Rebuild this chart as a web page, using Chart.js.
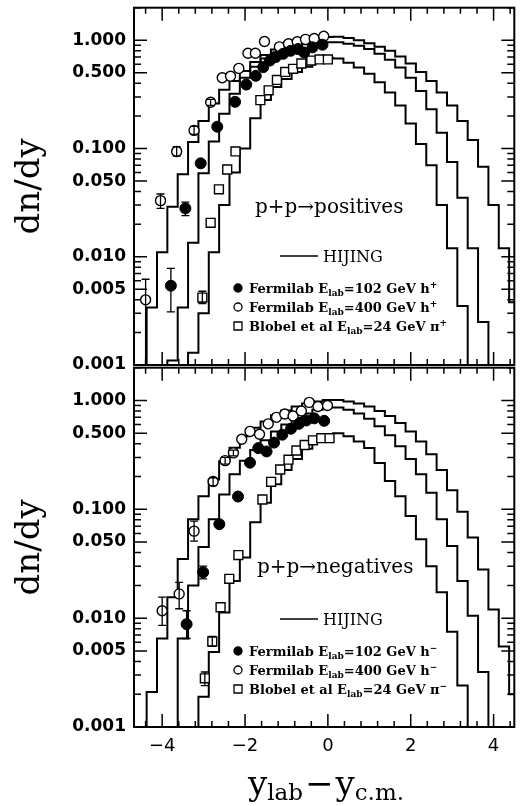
<!DOCTYPE html>
<html>
<head>
<meta charset="utf-8">
<title>dn/dy p+p HIJING</title>
<script src="https://cdn.jsdelivr.net/npm/chart.js@4.4.1/dist/chart.umd.min.js"></script>
<style>
  body { margin: 0; background: #fff; }
  #wrap { position: relative; width: 522px; height: 806px; overflow: hidden; }
  canvas { position: absolute; left: 0; }
  #topChart { top: 0; }
  #botChart { top: 360px; }
</style>
</head>
<body>
<div id="wrap">
  <canvas id="topChart" width="522" height="380"></canvas>
  <canvas id="botChart" width="522" height="446"></canvas>
</div>
<script>
// bin centres of the HIJING histograms (width 0.25)
const binCenters = [-4.5, -4.25, -4, -3.75, -3.5, -3.25, -3, -2.75, -2.5, -2.25, -2, -1.75, -1.5, -1.25, -1, -0.75, -0.5, -0.25,
  0, 0.25, 0.5, 0.75, 1, 1.25, 1.5, 1.75, 2, 2.25, 2.5, 2.75, 3, 3.25, 3.5, 3.75, 4, 4.25, 4.5];

// HIJING, positives
const hijPos400 = [0.0005, 0.0034, 0.011, 0.029, 0.058, 0.115, 0.18, 0.26, 0.35, 0.42, 0.52, 0.63, 0.73, 0.82, 0.91, 0.97, 1.02, 1.05,
  1.07, 1.08, 1.05, 1.0, 0.94, 0.87, 0.80, 0.71, 0.61, 0.51, 0.42, 0.33, 0.25, 0.18, 0.12, 0.068, 0.03, 0.012, 0.0038];
const hijPos102 = [0.0005, 0.0005, 0.0005, 0.0011, 0.0034, 0.0135, 0.059, 0.116, 0.21, 0.32, 0.45, 0.57, 0.68, 0.77, 0.83, 0.88, 0.92, 0.95,
  0.96, 0.96, 0.93, 0.89, 0.83, 0.75, 0.66, 0.56, 0.45, 0.34, 0.23, 0.14, 0.075, 0.035, 0.012, 0.0025, 0.0005, 0.0005, 0.0005];
const hijPos24 = [0.0005, 0.0005, 0.0005, 0.0005, 0.0005, 0.0013, 0.003, 0.011, 0.03, 0.06, 0.10, 0.19, 0.28, 0.37, 0.44, 0.51, 0.57, 0.63,
  0.69, 0.68, 0.62, 0.56, 0.49, 0.41, 0.33, 0.25, 0.17, 0.11, 0.07, 0.03, 0.012, 0.0035, 0.0005, 0.0005, 0.0005, 0.0005, 0.0005];

// HIJING, negatives
const hijNeg400 = [0.0005, 0.0021, 0.0065, 0.0156, 0.035, 0.081, 0.132, 0.188, 0.277, 0.367, 0.469, 0.56, 0.64, 0.73, 0.81, 0.88, 0.94, 0.98,
  1.01, 1.01, 0.98, 0.94, 0.88, 0.80, 0.72, 0.62, 0.52, 0.42, 0.32, 0.23, 0.15, 0.095, 0.055, 0.028, 0.012, 0.0055, 0.002];
const hijNeg102 = [0.0005, 0.0005, 0.0005, 0.0005, 0.0065, 0.02, 0.045, 0.081, 0.137, 0.21, 0.28, 0.35, 0.43, 0.52, 0.60, 0.69, 0.76, 0.82,
  0.86, 0.86, 0.82, 0.76, 0.68, 0.58, 0.48, 0.38, 0.29, 0.21, 0.142, 0.081, 0.046, 0.022, 0.0105, 0.0032, 0.0005, 0.0005, 0.0005];
const hijNeg24 = [0.0005, 0.0005, 0.0005, 0.0005, 0.0005, 0.0005, 0.0019, 0.0049, 0.0113, 0.022, 0.036, 0.076, 0.115, 0.17, 0.23, 0.29, 0.36, 0.43,
  0.49, 0.50, 0.47, 0.42, 0.365, 0.267, 0.182, 0.132, 0.087, 0.053, 0.03, 0.0173, 0.0075, 0.0024, 0.0005, 0.0005, 0.0005, 0.0005, 0.0005];

// data, positives
const fnal102PosX = [-3.79, -3.44, -3.07, -2.67, -2.24, -1.97, -1.74, -1.56, -1.40, -1.26, -1.08, -0.90, -0.72, -0.57, -0.37, -0.13];
const fnal102PosY = [0.0054, 0.028, 0.073, 0.159, 0.27, 0.39, 0.47, 0.565, 0.65, 0.70, 0.75, 0.80, 0.83, 0.77, 0.86, 0.91];
const fnal102PosHi = [0.0078, 0.032, null, null, null, null, null, null, null, null, null, null, null, null, null, null];
const fnal102PosLo = [0.0031, 0.024, null, null, null, null, null, null, null, null, null, null, null, null, null, null];

const fnal400PosX = [-4.40, -4.04, -3.65, -3.23, -2.83, -2.55, -2.35, -2.15, -1.93, -1.75, -1.53, -1.17, -0.95, -0.74, -0.54, -0.33, -0.10];
const fnal400PosY = [0.004, 0.033, 0.094, 0.147, 0.268, 0.45, 0.465, 0.55, 0.76, 0.76, 0.975, 0.87, 0.93, 0.97, 1.02, 1.04, 1.09];
const fnal400PosHi = [0.0062, 0.038, 0.104, 0.16, 0.285, null, null, null, null, null, null, null, null, null, null, null, null];
const fnal400PosLo = [0.0009, 0.028, 0.085, 0.135, 0.25, null, null, null, null, null, null, null, null, null, null, null, null];

const blobelPosX = [-3.03, -2.83, -2.63, -2.43, -2.23, -1.63, -1.43, -1.23, -1.03, -0.84, -0.64, -0.40, -0.20, 0.0];
const blobelPosY = [0.0042, 0.0206, 0.042, 0.064, 0.094, 0.28, 0.345, 0.43, 0.51, 0.545, 0.61, 0.65, 0.665, 0.665];
const blobelPosHi = [0.0048, null, null, null, null, null, null, null, null, null, null, null, null, null];
const blobelPosLo = [0.0037, null, null, null, null, null, null, null, null, null, null, null, null, null];

// data, negatives
const fnal102NegX = [-3.41, -3.01, -2.62, -2.17, -1.88, -1.68, -1.48, -1.30, -1.10, -0.89, -0.70, -0.52, -0.33, -0.09];
const fnal102NegY = [0.0088, 0.0264, 0.073, 0.131, 0.268, 0.365, 0.34, 0.41, 0.485, 0.55, 0.61, 0.655, 0.685, 0.65];
const fnal102NegHi = [0.0117, 0.030, null, null, null, null, null, null, null, null, null, null, null, null];
const fnal102NegLo = [0.0065, 0.023, null, null, null, null, null, null, null, null, null, null, null, null];

const fnal400NegX = [-4.0, -3.59, -3.23, -2.77, -2.48, -2.28, -2.08, -1.88, -1.65, -1.44, -1.24, -1.04, -0.84, -0.64, -0.45, -0.24, -0.01];
const fnal400NegY = [0.0117, 0.0167, 0.063, 0.18, 0.28, 0.33, 0.44, 0.52, 0.49, 0.61, 0.70, 0.75, 0.72, 0.80, 0.96, 0.88, 0.90];
const fnal400NegHi = [0.0156, 0.0213, 0.078, 0.195, 0.30, 0.35, null, null, null, null, null, null, null, null, null, null, null];
const fnal400NegLo = [0.0086, 0.0122, 0.051, 0.165, 0.26, 0.31, null, null, null, null, null, null, null, null, null, null, null];

const blobelNegX = [-2.97, -2.79, -2.59, -2.38, -2.16, -1.58, -1.37, -1.15, -0.95, -0.76, -0.56, -0.36, -0.16, 0.04];
const blobelNegY = [0.0028, 0.0061, 0.0126, 0.023, 0.038, 0.123, 0.179, 0.232, 0.286, 0.347, 0.39, 0.43, 0.45, 0.45];
const blobelNegHi = [0.0032, 0.0068, null, null, null, null, null, null, null, null, null, null, null, null];
const blobelNegLo = [0.0024, 0.0055, null, null, null, null, null, null, null, null, null, null, null, null];

// axis labels
const xLabelTicks = [-4, -2, 0, 2, 4];
const yLabelTicks = [0.001, 0.005, 0.01, 0.05, 0.1, 0.5, 1];

const legendPos = [['Fermilab E', 'lab', '=102 GeV h', '+'], ['Fermilab E', 'lab', '=400 GeV h', '+'], ['Blobel et al E', 'lab', '=24 GeV \u03c0', '+']];
const legendNeg = [['Fermilab E', 'lab', '=102 GeV h', '\u2212'], ['Fermilab E', 'lab', '=400 GeV h', '\u2212'], ['Blobel et al E', 'lab', '=24 GeV \u03c0', '\u2212']];

const SERIF = "'DejaVu Serif', serif";
const SANS = "'DejaVu Sans', sans-serif";
Chart.defaults.color = '#000';

// inward tick marks: every 0.4 in x, 1..9 per decade in y
const xTickMarks = [];
for (let k = -11; k <= 11; k++) {
  const v = k * 0.4;
  xTickMarks.push({ v, major: Math.abs(v / 2 - Math.round(v / 2)) < 1e-6 });
}
const yTickMarks = [];
[0.001, 0.01, 0.1, 1].forEach(d => {
  for (let m = 1; m <= 9; m++) {
    if (m * d <= 2) yTickMarks.push({ v: m * d, major: m === 1 || m === 5 });
  }
});

function histPoints(vals) {
  const pts = binCenters.map((c, i) => ({ x: c - 0.125, y: vals[i] }));
  pts.push({ x: binCenters[binCenters.length - 1] + 0.125, y: vals[vals.length - 1] });
  return pts;
}

function pointSet(xs, ys) {
  return xs.map((x, i) => ({ x, y: ys[i] }));
}

function drawMarker(ctx, style, x, y) {
  ctx.lineWidth = 1.3;
  ctx.strokeStyle = '#000';
  ctx.fillStyle = style === 'filled' ? '#000' : '#fff';
  ctx.beginPath();
  if (style === 'square') ctx.rect(x - 4, y - 4, 8, 8);
  else ctx.arc(x, y, 4, 0, Math.PI * 2);
  ctx.fill();
  ctx.stroke();
}

function richText(ctx, x, y, parts, base, small) {
  parts.forEach((t, i) => {
    const script = i % 2 === 1;
    ctx.font = script ? small : base;
    let dy = 0;
    if (i === 1) dy = 3;
    if (i === 3) dy = -5;
    ctx.fillText(t, x, y + dy);
    x += ctx.measureText(t).width;
  });
}

function decoPlugin(p) {
  return {
    id: 'deco',
    afterDatasetsDraw(chart) {
      const { ctx, chartArea: a } = chart;
      const y = chart.scales.y;
      ctx.save();
      ctx.strokeStyle = '#000';
      ctx.lineWidth = 1.3;
      chart.data.datasets.forEach((ds, i) => {
        if (!ds.errHi) return;
        const meta = chart.getDatasetMeta(i);
        ds.errHi.forEach((hi, j) => {
          if (hi == null) return;
          const px = meta.data[j].x;
          const yHi = y.getPixelForValue(hi);
          let yLo = y.getPixelForValue(ds.errLo[j]);
          const clipped = yLo > a.bottom;
          if (clipped) yLo = a.bottom;
          ctx.beginPath();
          ctx.moveTo(px, yHi); ctx.lineTo(px, yLo);
          ctx.moveTo(px - 4, yHi); ctx.lineTo(px + 4, yHi);
          if (!clipped) { ctx.moveTo(px - 4, yLo); ctx.lineTo(px + 4, yLo); }
          ctx.stroke();
        });
      });
      ctx.restore();
    },
    afterDraw(chart) {
      const { ctx, chartArea: a } = chart;
      const x = chart.scales.x, y = chart.scales.y;
      const off = p.offset;
      ctx.save();
      ctx.strokeStyle = '#000';
      ctx.fillStyle = '#000';
      ctx.lineWidth = 1.5;
      ctx.beginPath();
      xTickMarks.forEach(t => {
        const px = x.getPixelForValue(t.v), len = t.major ? 13 : 6;
        ctx.moveTo(px, a.top); ctx.lineTo(px, a.top + len);
        ctx.moveTo(px, a.bottom); ctx.lineTo(px, a.bottom - len);
      });
      yTickMarks.forEach(t => {
        const py = y.getPixelForValue(t.v), len = t.major ? 13 : 7;
        ctx.moveTo(a.left, py); ctx.lineTo(a.left + len, py);
        ctx.moveTo(a.right, py); ctx.lineTo(a.right - len, py);
      });
      ctx.stroke();
      ctx.lineWidth = 2;
      ctx.strokeRect(a.left, a.top, a.right - a.left, a.bottom - a.top);

      // reaction label
      ctx.textAlign = 'left';
      ctx.textBaseline = 'alphabetic';
      ctx.font = '20px ' + SERIF;
      ctx.fillText(p.reaction, p.reactionX, p.reactionY - off);

      // HIJING key
      ctx.lineWidth = 1.5;
      ctx.beginPath();
      ctx.moveTo(280, p.hijingY - off); ctx.lineTo(318, p.hijingY - off);
      ctx.stroke();
      ctx.font = '16px ' + SERIF;
      ctx.fillText('HIJING', 323, p.hijingY + 6 - off);

      // data key
      const styles = ['filled', 'open', 'square'];
      p.legend.forEach((row, i) => {
        const cy = p.legendY + i * 19 - off;
        drawMarker(ctx, styles[i], 238, cy);
        ctx.fillStyle = '#000';
        richText(ctx, 249, cy + 4.5, row, 'bold 13px ' + SERIF, 'bold 9px ' + SERIF);
      });

      if (p.xTitle) {
        let xx = 248;
        const by = 795 - off;
        const big = '34px ' + SERIF, sub = '23px ' + SERIF;
        [['y', big, 0, 0], ['lab', sub, 5, 2], ['\u2212', big, 0, 2], ['y', big, 0, 0], ['c.m.', sub, 5, 0]].forEach(s => {
          ctx.font = s[1];
          ctx.fillText(s[0], xx, by + s[2]);
          xx += ctx.measureText(s[0]).width + s[3];
        });
      }
      ctx.restore();
    }
  };
}

function makePanel(id, p) {
  const hist = h => ({ data: histPoints(h), showLine: true, stepped: true, pointRadius: 0,
    borderColor: '#000', borderWidth: 2, fill: false });
  const datasets = [
    { data: pointSet(p.fx, p.fy), pointStyle: 'circle', pointRadius: 5.5, backgroundColor: '#000',
      borderColor: '#000', borderWidth: 1, errHi: p.fHi, errLo: p.fLo },
    { data: pointSet(p.ox, p.oy), pointStyle: 'circle', pointRadius: 5, backgroundColor: '#fff',
      borderColor: '#000', borderWidth: 1.4, errHi: p.oHi, errLo: p.oLo },
    { data: pointSet(p.sx, p.sy), pointStyle: 'rect', pointRadius: 6.3, backgroundColor: '#fff',
      borderColor: '#000', borderWidth: 1.4, errHi: p.sHi, errLo: p.sLo },
    hist(p.h400), hist(p.h102), hist(p.h24)
  ];
  return new Chart(document.getElementById(id), {
    type: 'scatter',
    data: { datasets },
    options: {
      responsive: false,
      animation: false,
      events: [],
      layout: { padding: { top: 2, right: 4, left: 0, bottom: p.padBottom } },
      plugins: { legend: { display: false }, tooltip: { enabled: false } },
      scales: {
        x: {
          type: 'linear', min: -4.68, max: 4.5,
          display: p.xTitle,
          grid: { display: false, drawTicks: false },
          border: { display: false },
          ticks: {
            font: { family: SANS, size: 18 }, padding: 9, autoSkip: false, maxRotation: 0,
            callback: v => (v < 0 ? '\u2212' : '') + Math.abs(v)
          },
          afterBuildTicks: s => { s.ticks = xLabelTicks.map(v => ({ value: v })); },
          afterFit: s => {
            s.height = p.xTitle ? 79 : 0;
            s.paddingLeft = 0; s.paddingRight = 0;
          }
        },
        y: {
          type: 'logarithmic', min: 0.001, max: 2,
          grid: { display: false, drawTicks: false },
          border: { display: false },
          ticks: {
            font: { family: SANS, size: 17, weight: 'bold' }, padding: 8, autoSkip: false,
            callback: v => Number(v).toFixed(3)
          },
          afterBuildTicks: s => { s.ticks = yLabelTicks.map(v => ({ value: v })); },
          afterFit: s => {
            s.width = 134;
            s.paddingTop = 0; s.paddingBottom = 0;
          },
          title: { display: true, text: 'dn/dy', font: { family: SERIF, size: 34 }, padding: { top: 10, bottom: 0 } }
        }
      }
    },
    plugins: [decoPlugin(p)]
  });
}

makePanel('topChart', {
  offset: 0, padBottom: 15, xTitle: false,
  fx: fnal102PosX, fy: fnal102PosY, fHi: fnal102PosHi, fLo: fnal102PosLo,
  ox: fnal400PosX, oy: fnal400PosY, oHi: fnal400PosHi, oLo: fnal400PosLo,
  sx: blobelPosX, sy: blobelPosY, sHi: blobelPosHi, sLo: blobelPosLo,
  h400: hijPos400, h102: hijPos102, h24: hijPos24,
  reaction: 'p+p\u2192positives', reactionX: 255, reactionY: 213,
  hijingY: 256, legendY: 288, legend: legendPos
});

makePanel('botChart', {
  offset: 360, padBottom: 0, xTitle: true,
  fx: fnal102NegX, fy: fnal102NegY, fHi: fnal102NegHi, fLo: fnal102NegLo,
  ox: fnal400NegX, oy: fnal400NegY, oHi: fnal400NegHi, oLo: fnal400NegLo,
  sx: blobelNegX, sy: blobelNegY, sHi: blobelNegHi, sLo: blobelNegLo,
  h400: hijNeg400, h102: hijNeg102, h24: hijNeg24,
  reaction: 'p+p\u2192negatives', reactionX: 257, reactionY: 573,
  hijingY: 619, legendY: 651, legend: legendNeg
});
</script>
</body>
</html>
